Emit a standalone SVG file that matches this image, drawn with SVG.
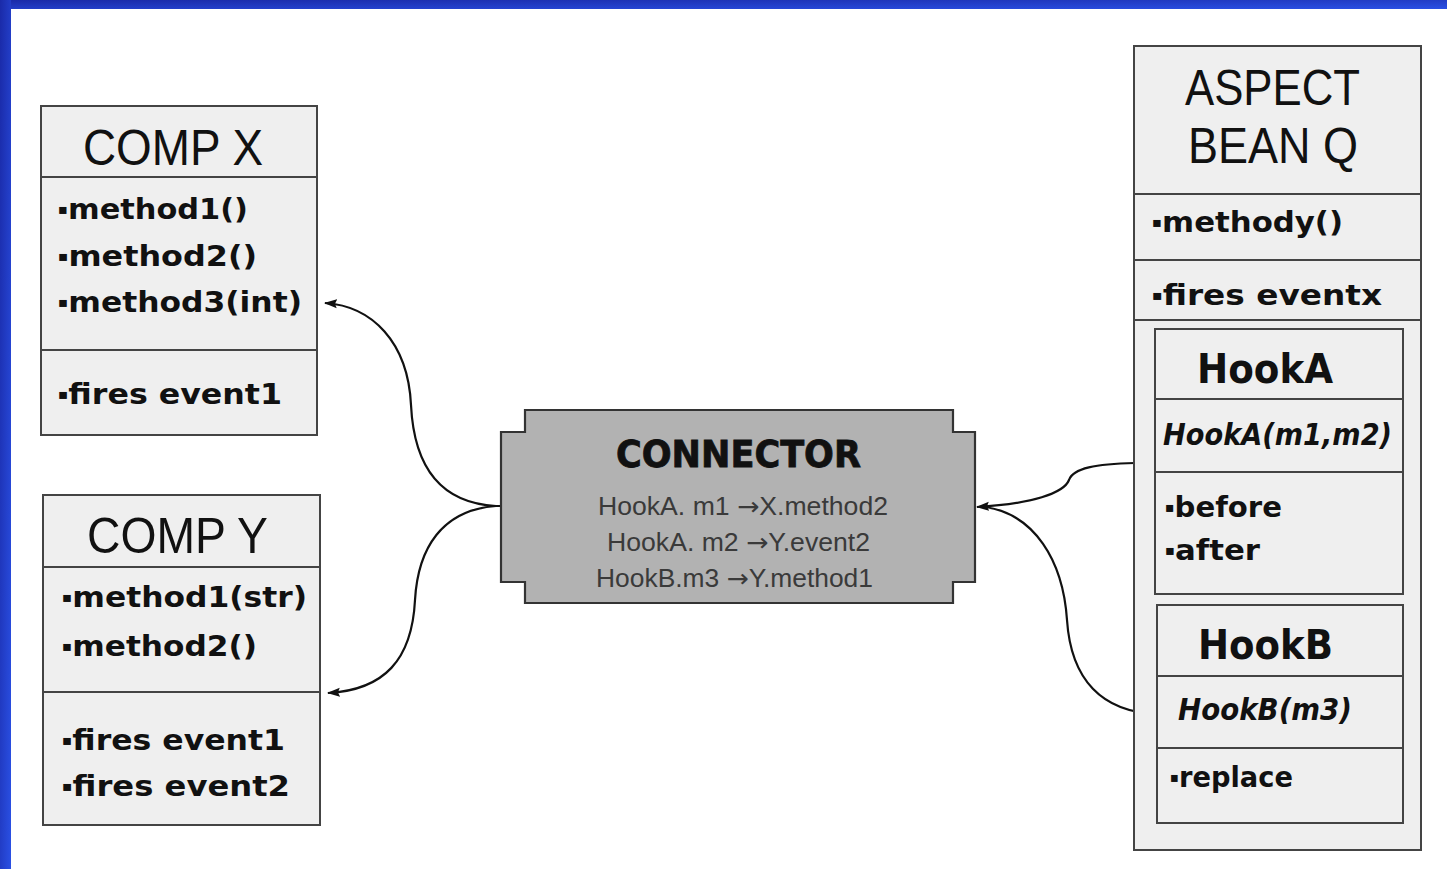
<svg xmlns="http://www.w3.org/2000/svg" width="1447" height="869" viewBox="0 0 1447 869">
  <defs>
    <linearGradient id="frameBlue" x1="0" y1="0" x2="1" y2="1">
      <stop offset="0" stop-color="#1a2aa8"/>
      <stop offset="1" stop-color="#2a50e4"/>
    </linearGradient>
    <marker id="arrow" viewBox="0 0 13 10" refX="12" refY="5" markerWidth="13" markerHeight="10" markerUnits="userSpaceOnUse" orient="auto">
      <path d="M13,5 L0,0.5 L2,5 L0,9.5 Z" fill="#111"/>
    </marker>
    <style>
      .box { fill: #efefef; stroke: #444; stroke-width: 2; }
      .sep { stroke: #444; stroke-width: 2; fill: none; }
      .title { font-family: "Liberation Sans", Arial, sans-serif; font-size: 50px; fill: #111; }
      .item { font-family: "DejaVu Sans", "Liberation Sans", sans-serif; font-weight: bold; font-size: 29px; fill: #111; }
      .hook { font-family: "DejaVu Sans", "Liberation Sans", sans-serif; font-weight: bold; font-size: 40px; fill: #111; }
      .sig { font-family: "DejaVu Sans", "Liberation Sans", sans-serif; font-weight: bold; font-style: italic; font-size: 30px; fill: #111; }
      .ctitle { font-family: "DejaVu Sans", "Liberation Sans", sans-serif; font-weight: bold; font-size: 37px; fill: #111; stroke: #111; stroke-width: 0.8; }
      .map { font-family: "Liberation Sans", Arial, sans-serif; font-size: 25px; fill: #3a3a3a; }
      .to { font-family: "DejaVu Sans", sans-serif; }
      .dot { font-size: 14px; }
      .wire { fill: none; stroke: #111; stroke-width: 2.2; }
    </style>
  </defs>

  <!-- page background and blue frame -->
  <rect x="0" y="0" width="1447" height="869" fill="#ffffff"/>
  <rect x="0" y="0" width="1447" height="9" fill="url(#frameBlue)"/>
  <rect x="0" y="0" width="11" height="869" fill="url(#frameBlue)"/>

  <!-- connectors -->
  <g id="connectors">
    <path class="wire" d="M502 506 L496 506 C440 503, 414 466, 411 405 C408 342, 372 306, 325 303" marker-end="url(#arrow)"/>
    <path class="wire" d="M496 506 C442 510, 418 548, 415 600 C412 660, 384 690, 328 693" marker-end="url(#arrow)"/>
    <path class="wire" d="M1155 463 L1135 463 C1096 464, 1073 468, 1069 480 C1064 493, 1032 504, 977 507" marker-end="url(#arrow)"/>
    <path class="wire" d="M1157 714 C1102 712, 1071 680, 1067 620 C1063 560, 1034 514, 985 507"/>
  </g>

  <!-- COMP X -->
  <g id="comp-x">
    <rect class="box" x="41" y="106" width="276" height="329"/>
    <line class="sep" x1="41" y1="177" x2="317" y2="177"/>
    <line class="sep" x1="41" y1="350" x2="317" y2="350"/>
    <text class="title" x="83" y="165" textLength="180" lengthAdjust="spacingAndGlyphs">COMP X</text>
    <text class="item" x="58" y="219" textLength="190" lengthAdjust="spacingAndGlyphs"><tspan class="dot" baseline-shift="5">▪</tspan>method1()</text>
    <text class="item" x="58" y="266" textLength="199" lengthAdjust="spacingAndGlyphs"><tspan class="dot" baseline-shift="5">▪</tspan>method2()</text>
    <text class="item" x="58" y="312" textLength="244" lengthAdjust="spacingAndGlyphs"><tspan class="dot" baseline-shift="5">▪</tspan>method3(int)</text>
    <text class="item" x="58" y="404" textLength="224" lengthAdjust="spacingAndGlyphs"><tspan class="dot" baseline-shift="5">▪</tspan>fires event1</text>
  </g>

  <!-- COMP Y -->
  <g id="comp-y">
    <rect class="box" x="43" y="495" width="277" height="330"/>
    <line class="sep" x1="43" y1="567" x2="320" y2="567"/>
    <line class="sep" x1="43" y1="692" x2="320" y2="692"/>
    <text class="title" x="87" y="553" textLength="181" lengthAdjust="spacingAndGlyphs">COMP Y</text>
    <text class="item" x="62" y="607" textLength="245" lengthAdjust="spacingAndGlyphs"><tspan class="dot" baseline-shift="5">▪</tspan>method1(str)</text>
    <text class="item" x="62" y="656" textLength="195" lengthAdjust="spacingAndGlyphs"><tspan class="dot" baseline-shift="5">▪</tspan>method2()</text>
    <text class="item" x="62" y="750" textLength="223" lengthAdjust="spacingAndGlyphs"><tspan class="dot" baseline-shift="5">▪</tspan>fires event1</text>
    <text class="item" x="62" y="796" textLength="228" lengthAdjust="spacingAndGlyphs"><tspan class="dot" baseline-shift="5">▪</tspan>fires event2</text>
  </g>

  <!-- CONNECTOR -->
  <g id="connector">
    <path d="M525 410 L953 410 L953 432 L975 432 L975 582 L953 582 L953 603 L525 603 L525 582 L501 582 L501 432 L525 432 Z" fill="#b2b2b2" stroke="#333" stroke-width="2.2"/>
    <text class="ctitle" x="616" y="467" textLength="245" lengthAdjust="spacingAndGlyphs">CONNECTOR</text>
    <text class="map" x="598" y="515" textLength="290" lengthAdjust="spacingAndGlyphs">HookA. m1 <tspan class="to">→</tspan>X.method2</text>
    <text class="map" x="607" y="551" textLength="263" lengthAdjust="spacingAndGlyphs">HookA. m2 <tspan class="to">→</tspan>Y.event2</text>
    <text class="map" x="596" y="587" textLength="277" lengthAdjust="spacingAndGlyphs" fill="#4a4a4a">HookB.m3 <tspan class="to">→</tspan>Y.method1</text>
  </g>

  <!-- ASPECT BEAN Q -->
  <g id="aspect-bean-q">
    <rect class="box" x="1134" y="46" width="287" height="804"/>
    <line class="sep" x1="1134" y1="194" x2="1421" y2="194"/>
    <line class="sep" x1="1134" y1="260" x2="1421" y2="260"/>
    <line class="sep" x1="1134" y1="320" x2="1421" y2="320"/>
    <text class="title" x="1185" y="105" textLength="175" lengthAdjust="spacingAndGlyphs">ASPECT</text>
    <text class="title" x="1188" y="163" textLength="170" lengthAdjust="spacingAndGlyphs">BEAN Q</text>
    <text class="item" x="1152" y="232" textLength="191" lengthAdjust="spacingAndGlyphs"><tspan class="dot" baseline-shift="5">▪</tspan>methody()</text>
    <text class="item" x="1152" y="305" textLength="230" lengthAdjust="spacingAndGlyphs"><tspan class="dot" baseline-shift="5">▪</tspan>fires eventx</text>
  </g>

  <!-- HookA -->
  <g id="hook-a">
    <rect class="box" x="1155" y="329" width="248" height="265"/>
    <line class="sep" x1="1155" y1="399" x2="1403" y2="399"/>
    <line class="sep" x1="1155" y1="472" x2="1403" y2="472"/>
    <text class="hook" x="1197" y="383" textLength="136" lengthAdjust="spacingAndGlyphs">HookA</text>
    <text class="sig" x="1163" y="445" textLength="229" lengthAdjust="spacingAndGlyphs">HookA(m1,m2)</text>
    <text class="item" x="1165" y="517" textLength="117" lengthAdjust="spacingAndGlyphs"><tspan class="dot" baseline-shift="5">▪</tspan>before</text>
    <text class="item" x="1165" y="560" textLength="95" lengthAdjust="spacingAndGlyphs"><tspan class="dot" baseline-shift="5">▪</tspan>after</text>
  </g>

  <!-- HookB -->
  <g id="hook-b">
    <rect class="box" x="1157" y="605" width="246" height="218"/>
    <line class="sep" x1="1157" y1="676" x2="1403" y2="676"/>
    <line class="sep" x1="1157" y1="748" x2="1403" y2="748"/>
    <text class="hook" x="1198" y="659" textLength="135" lengthAdjust="spacingAndGlyphs">HookB</text>
    <text class="sig" x="1178" y="720" textLength="174" lengthAdjust="spacingAndGlyphs">HookB(m3)</text>
    <text class="item" x="1170" y="787" textLength="123" lengthAdjust="spacingAndGlyphs"><tspan class="dot" baseline-shift="5">▪</tspan>replace</text>
  </g>
</svg>
